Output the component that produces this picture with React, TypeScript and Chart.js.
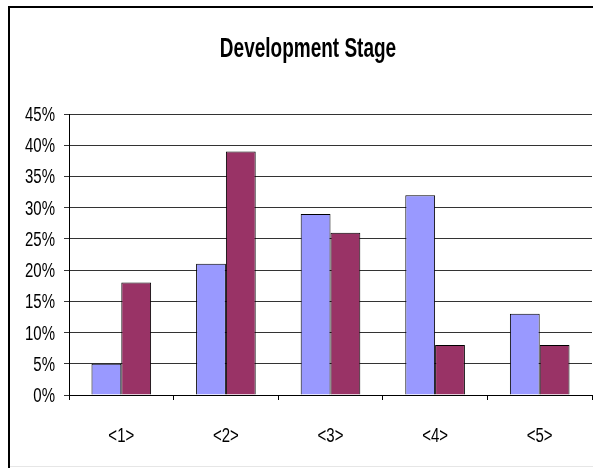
import React, { useEffect, useRef } from "react";
import { Chart, registerables } from "chart.js";

Chart.register(...registerables);

const categories = ["<1>", "<2>", "<3>", "<4>", "<5>"];
const seriesA = [5, 21, 29, 32, 13];
const seriesB = [18, 39, 26, 8, 8];
const yTicksMax = 45;
const yStep = 5;
const titleText = "Development Stage";

const FONT = "Liberation Sans, Arial, sans-serif";

function stretchedText(ctx: any, text: string, x: number, baseline: number, font: string, align: string, sy: number) {
  ctx.save();
  ctx.font = font;
  ctx.textAlign = align;
  ctx.textBaseline = "alphabetic";
  ctx.fillStyle = "#000";
  ctx.translate(x, baseline);
  ctx.scale(1, sy);
  ctx.fillText(text, 0, 0);
  ctx.restore();
}

const framePlugin = {
  id: "frame",
  afterDraw(chart: any) {
    const ctx = chart.ctx;
    ctx.save();
    ctx.fillStyle = "#000";
    ctx.fillRect(8, 6, chart.width - 8, 2);
    ctx.fillRect(8, 6, 2, chart.height - 6);
    ctx.fillStyle = "#e6e6e6";
    ctx.fillRect(10, 466, chart.width - 10, 1);
    ctx.restore();

    // title (centred on the frame, not on the plot area)
    stretchedText(ctx, titleText, 308, 57, "bold 19px " + FONT, "center", 1.5);

    // y tick labels
    const ys = chart.scales.y;
    ys.ticks.forEach((t: any) => {
      const py = ys.getPixelForValue(t.value);
      stretchedText(ctx, t.value + "%", 55, py + 7, "15px " + FONT, "right", 1.3);
    });

    // x tick labels
    const xs = chart.scales.x;
    categories.forEach((c, i) => {
      const px = xs.getPixelForValue(i);
      stretchedText(ctx, c, px, 442, "15px " + FONT, "center", 1.32);
    });
  },
};

export default function App() {
  const ref = useRef<HTMLCanvasElement | null>(null);
  useEffect(() => {
    document.body.style.margin = "0";
    const ctx = ref.current!;
    const chart = new Chart(ctx, {
      type: "bar",
      data: {
        labels: categories,
        datasets: [
          {
            label: "A",
            data: seriesA,
            backgroundColor: "#9999FF",
            borderColor: "#000",
            borderWidth: 1,
            categoryPercentage: 0.57,
            barPercentage: 1,
          },
          {
            label: "B",
            data: seriesB,
            backgroundColor: "#993366",
            borderColor: "#000",
            borderWidth: 1,
            categoryPercentage: 0.57,
            barPercentage: 1,
          },
        ],
      },
      options: {
        animation: false,
        responsive: false,
        maintainAspectRatio: false,
        layout: { padding: { top: 114, right: 1, bottom: 0, left: 0 } },
        plugins: {
          legend: { display: false },
          tooltip: { enabled: false },
          title: { display: false },
        },
        scales: {
          x: {
            offset: true,
            grid: {
              offset: true,
              drawOnChartArea: false,
              drawTicks: true,
              tickLength: 5,
              color: "#000",
            },
            border: { display: true, color: "#000", width: 1 },
            ticks: { display: false },
            afterFit(scale: any) {
              scale.height = 73;
            },
          },
          y: {
            min: 0,
            max: yTicksMax,
            grid: {
              color: "#333",
              lineWidth: 1,
              drawTicks: true,
              tickLength: 5,
            },
            border: { display: true, color: "#000", width: 1 },
            ticks: { stepSize: yStep, display: false },
            afterFit(scale: any) {
              scale.width = 69;
            },
          },
        },
      },
      plugins: [framePlugin],
    });
    return () => chart.destroy();
  }, []);
  return (
    <div style={{ position: "fixed", left: 0, top: 0, width: 593, height: 468, background: "#fff" }}>
      <canvas ref={ref} width={593} height={468} style={{ display: "block" }} />
    </div>
  );
}
